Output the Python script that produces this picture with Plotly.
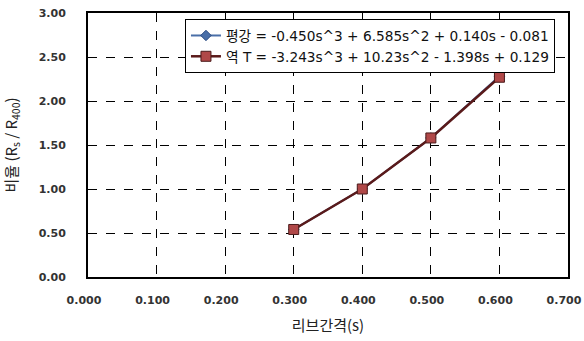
import plotly.graph_objects as go

spacing = [0.3, 0.4, 0.5, 0.6]
flat_bar = [0.54, 1.00, 1.58, 2.28]
inverted_t = [0.54, 1.00, 1.58, 2.27]
x_ticks = [0.0, 0.1, 0.2, 0.3, 0.4, 0.5, 0.6, 0.7]
y_ticks = [0.0, 0.5, 1.0, 1.5, 2.0, 2.5, 3.0]

name1 = "평강 = -0.450s^3 + 6.585s^2 + 0.140s - 0.081"
name2 = "역 T = -3.243s^3 + 10.23s^2 - 1.398s + 0.129"

fig = go.Figure()
fig.add_trace(go.Scatter(
    x=spacing, y=flat_bar, mode="lines+markers", name=name1,
    line=dict(color="#4a6fa8", width=2),
    marker=dict(symbol="diamond", size=8, color="#4a6fa8", line=dict(color="#2a4a80", width=1)),
))
fig.add_trace(go.Scatter(
    x=spacing, y=inverted_t, mode="lines+markers", name=name2,
    line=dict(color="#5a1a1a", width=2.5),
    marker=dict(symbol="square", size=10, color="#b04848", line=dict(color="#4a1a1a", width=1)),
))

tickfont = dict(family="DejaVu Sans", size=11, color="#333333", weight="bold")
titlefont = dict(family="Noto Sans CJK KR", size=15, color="#222222")
fig.update_layout(
    width=584, height=341,
    margin=dict(l=88, r=16, t=13, b=64),
    paper_bgcolor="white", plot_bgcolor="white",
    font=dict(family="Noto Sans CJK KR", color="#111111"),
    showlegend=True,
    legend=dict(
        x=0.202, y=0.977, xanchor="left", yanchor="top",
        bgcolor="white", bordercolor="black", borderwidth=1,
        font=dict(family="DejaVu Sans, Noto Sans CJK KR", size=13.7, color="#111111"),
        tracegroupgap=0, itemwidth=30,
    ),
    xaxis=dict(
        range=[0, 0.7], tickvals=x_ticks, tickformat=".3f", automargin=False,
        showgrid=True, gridcolor="black", griddash="dash", gridwidth=1,
        showline=True, linecolor="black", linewidth=2, mirror=True,
        zeroline=False, tickfont=tickfont, ticks="", ticklabelstandoff=12,
        ticklabelshift=-4, ticklabeloverflow="allow",
        title=dict(text="리브간격(s)", font=titlefont, standoff=14),
    ),
    yaxis=dict(
        range=[0, 3], tickvals=y_ticks, tickformat=".2f", automargin=False,
        showgrid=True, gridcolor="black", griddash="dash", gridwidth=1,
        showline=True, linecolor="black", linewidth=2, mirror=True,
        zeroline=False, tickfont=tickfont, ticks="", ticklabelstandoff=18,
        title=dict(text="비율 (R<sub>s</sub> / R<sub>400</sub>)", font=titlefont, standoff=22),
    ),
)
fig.write_html("out.html", config={"displayModeBar": False},
               post_script="document.body.style.margin='0px';")
